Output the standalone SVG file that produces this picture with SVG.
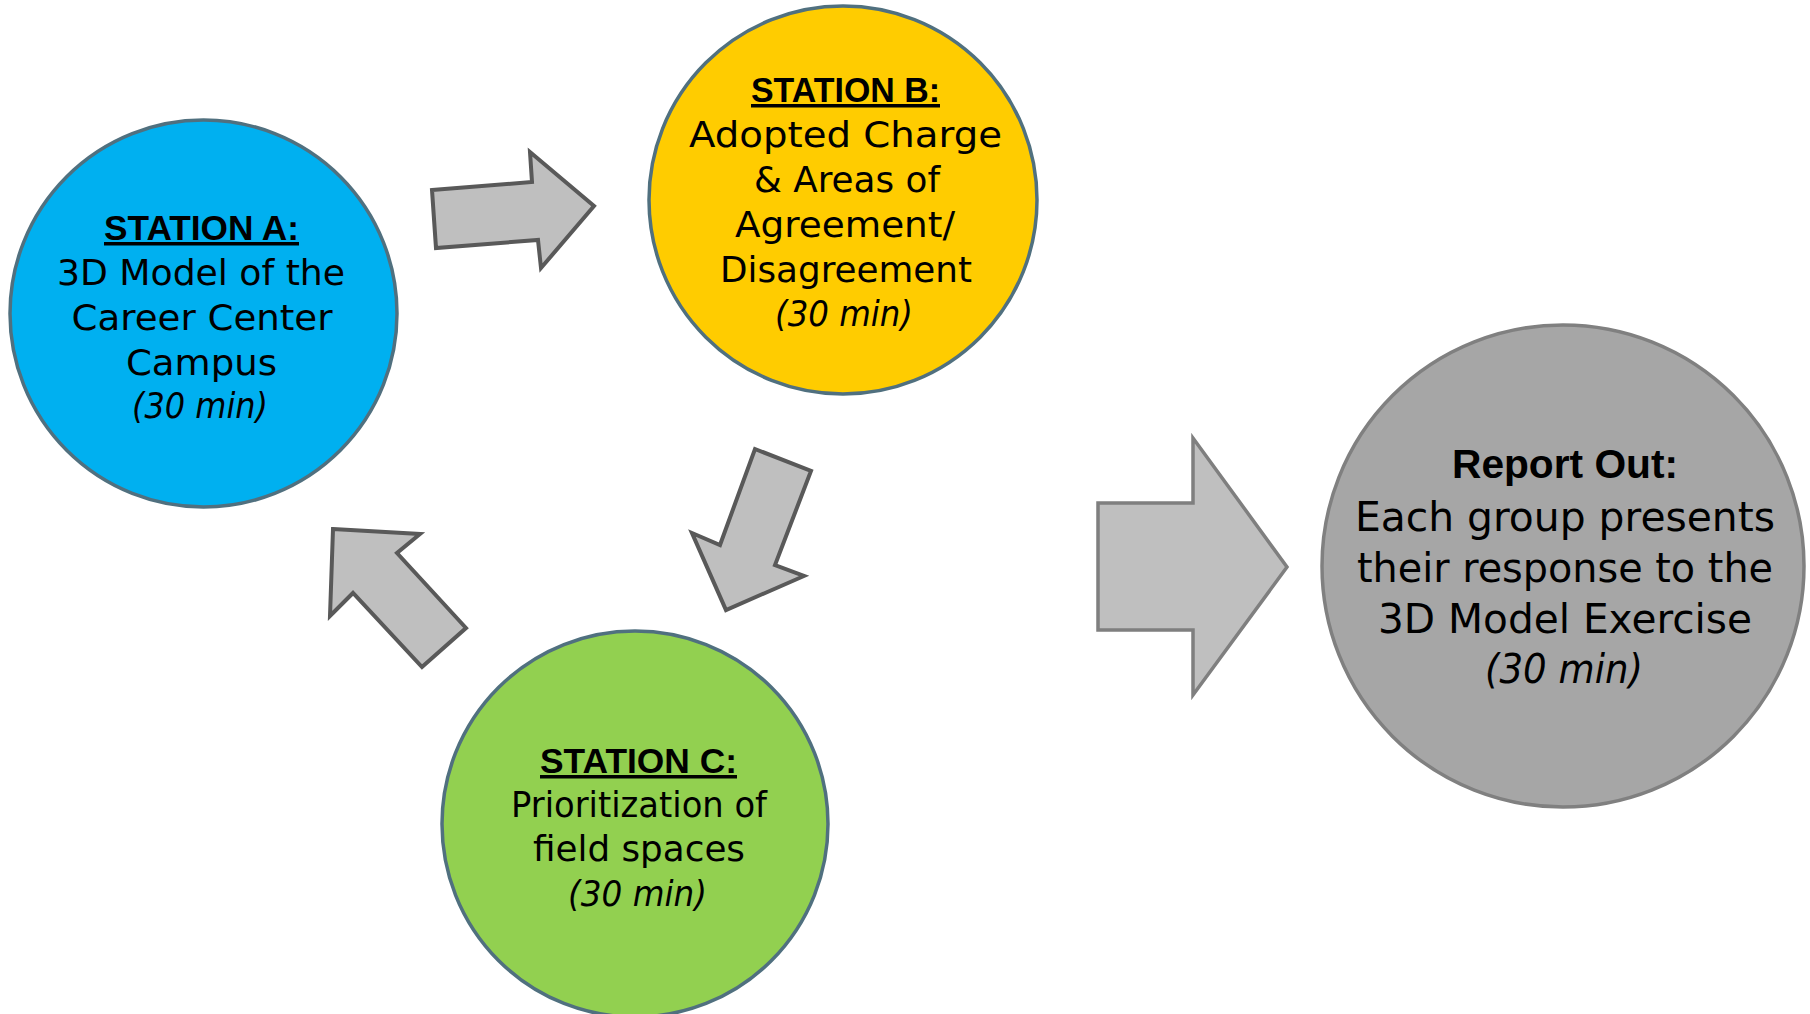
<svg xmlns="http://www.w3.org/2000/svg" width="1810" height="1014" viewBox="0 0 1810 1014">
<style>
.bg{fill:#ffffff}
.st{stroke:#50707f;stroke-width:3.5}
.rep{fill:#a6a6a6;stroke:#808080;stroke-width:3.5}
.t{font-family:"DejaVu Sans","Noto Sans",sans-serif;font-size:35px;fill:#000;text-anchor:middle}
.tr{font-family:"DejaVu Sans","Noto Sans",sans-serif;font-size:40px;fill:#000;text-anchor:middle}
.h{font-family:"Liberation Sans",Arial,sans-serif;font-weight:bold;font-size:35px;fill:#000;text-anchor:middle;text-decoration:underline}
.hr{font-family:"Liberation Sans",Arial,sans-serif;font-weight:bold;font-size:40px;fill:#000;text-anchor:middle}
.i{font-style:italic}
.arr{fill:#bfbfbf;stroke:#595959;stroke-width:4;stroke-linejoin:miter}
.arr2{fill:#bfbfbf;stroke:#7f7f7f;stroke-width:3.5;stroke-linejoin:miter}
</style>
<rect class="bg" x="0" y="0" width="1810" height="1014"/>
<g id="connectors">
<polygon class="arr" points="432,190 532,182 530,152 594,206 541,268 538,240 436,248"/>
<polygon class="arr" points="755,449 811,471 775,565 804,576 726,610 692,533 720,545"/>
<polygon class="arr" points="333,529 420,534 397,553 466,628 422,667 353,593 330,616"/>
<polygon class="arr2" points="1098,503 1193,503 1193,438 1287,567 1193,695 1193,630 1098,630"/>
</g>
<g id="stationA">
<circle cx="203.5" cy="313.5" r="193.5" fill="#00b0f0" class="st"/>
<text class="h" x="201.5" y="240" textLength="195" lengthAdjust="spacingAndGlyphs">STATION A:</text>
<text class="t" x="201" y="285" textLength="288" lengthAdjust="spacingAndGlyphs">3D Model of the</text>
<text class="t" x="202" y="330" textLength="261" lengthAdjust="spacingAndGlyphs">Career Center</text>
<text class="t" x="201.5" y="375" textLength="151" lengthAdjust="spacingAndGlyphs">Campus</text>
<text class="t i" x="200" y="418" textLength="136" lengthAdjust="spacingAndGlyphs">(30 min)</text>
</g>
<g id="stationB">
<circle cx="843" cy="200" r="194" fill="#ffcc00" class="st"/>
<text class="h" x="845.5" y="102" textLength="189" lengthAdjust="spacingAndGlyphs">STATION B:</text>
<text class="t" x="845.5" y="147" textLength="313" lengthAdjust="spacingAndGlyphs">Adopted Charge</text>
<text class="t" x="847" y="192" textLength="186" lengthAdjust="spacingAndGlyphs">&amp; Areas of</text>
<text class="t" x="845" y="237" textLength="220" lengthAdjust="spacingAndGlyphs">Agreement/</text>
<text class="t" x="846" y="282" textLength="252" lengthAdjust="spacingAndGlyphs">Disagreement</text>
<text class="t i" x="844" y="326" textLength="138" lengthAdjust="spacingAndGlyphs">(30 min)</text>
</g>
<g id="stationC">
<circle cx="635" cy="824" r="193" fill="#92d050" class="st"/>
<text class="h" x="638.5" y="773" textLength="197" lengthAdjust="spacingAndGlyphs">STATION C:</text>
<text class="t" x="639" y="817" textLength="256" lengthAdjust="spacingAndGlyphs">Prioritization of</text>
<text class="t" x="639" y="861" textLength="212" lengthAdjust="spacingAndGlyphs">field spaces</text>
<text class="t i" x="637.5" y="906" textLength="139" lengthAdjust="spacingAndGlyphs">(30 min)</text>
</g>
<g id="reportOut">
<circle cx="1563" cy="566" r="241" class="rep"/>
<text class="hr" x="1565" y="478" textLength="226" lengthAdjust="spacingAndGlyphs">Report Out:</text>
<text class="tr" x="1565" y="531" textLength="420" lengthAdjust="spacingAndGlyphs">Each group presents</text>
<text class="tr" x="1565" y="582" textLength="416" lengthAdjust="spacingAndGlyphs">their response to the</text>
<text class="tr" x="1565" y="633" textLength="374" lengthAdjust="spacingAndGlyphs">3D Model Exercise</text>
<text class="tr i" x="1564" y="683" textLength="158" lengthAdjust="spacingAndGlyphs">(30 min)</text>
</g>
</svg>
